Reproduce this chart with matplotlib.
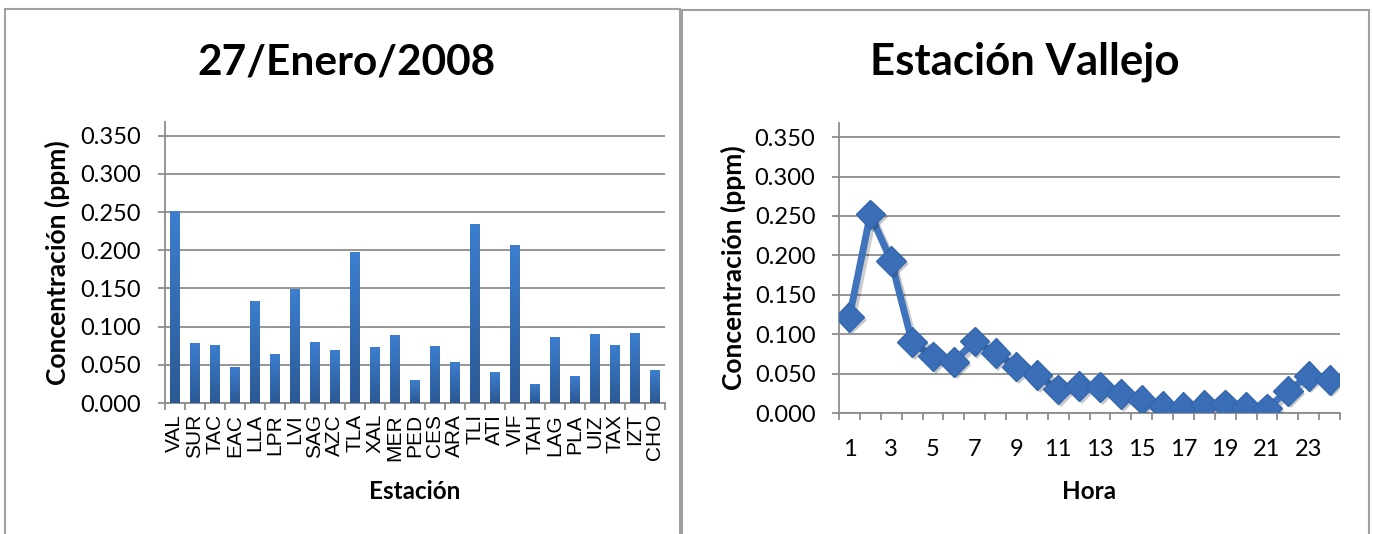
import numpy as np
import matplotlib
matplotlib.use('Agg')
import matplotlib.pyplot as plt
import matplotlib.patheffects as pe
from matplotlib.patches import Rectangle

# ozone concentration per station, 27 Jan 2008
estaciones = ['VAL','SUR','TAC','EAC','LLA','LPR','LVI','SAG','AZC','TLA','XAL','MER','PED',
              'CES','ARA','TLI','ATI','VIF','TAH','LAG','PLA','UIZ','TAX','IZT','CHO']
conc_est = [0.251, 0.079, 0.076, 0.047, 0.134, 0.064, 0.149, 0.080, 0.069, 0.198, 0.073, 0.089, 0.030,
            0.075, 0.054, 0.235, 0.040, 0.207, 0.025, 0.086, 0.036, 0.090, 0.076, 0.092, 0.043]

# hourly values at Vallejo station
horas = list(range(1, 25))
conc_val = [0.122, 0.252, 0.193, 0.090, 0.072, 0.065, 0.091, 0.076, 0.059, 0.048, 0.030, 0.034,
            0.033, 0.024, 0.017, 0.009, 0.008, 0.010, 0.011, 0.008, 0.006, 0.028, 0.047, 0.042]

yticks = [0.0, 0.05, 0.1, 0.15, 0.2, 0.25, 0.3, 0.35]

W, H = 1373, 534
fig = plt.figure(figsize=(W/100, H/100), dpi=100)

gris = '#8c8c8c'
font = 'Lato'

# panel frames
fig.patches.append(Rectangle((5/W, -0.05), 675/W, 1.05 - 9/H, transform=fig.transFigure,
                             fill=False, edgecolor='#a0a0a0', linewidth=1.5))
fig.patches.append(Rectangle((682/W, -0.05), 687/W, 1.05 - 10/H, transform=fig.transFigure,
                             fill=False, edgecolor='#a0a0a0', linewidth=1.5))


def estilo(ax):
    for s in ['top', 'right']:
        ax.spines[s].set_visible(False)
    for s in ['left', 'bottom']:
        ax.spines[s].set_color(gris)
        ax.spines[s].set_linewidth(1.3)
    ax.set_yticks(yticks)
    ax.set_yticklabels(['%.3f' % v for v in yticks], fontfamily=font, fontsize=17)
    ax.tick_params(axis='y', direction='out', length=5, width=1.3, color=gris, pad=12)
    ax.grid(axis='y', color=gris, linewidth=1.3)
    ax.set_axisbelow(True)
    ax.set_ylim(0, 0.368)
    ax.set_ylabel('Concentración (ppm)', fontfamily=font, fontweight='bold', fontsize=19)


# left: bars by station
ax1 = fig.add_axes([164.7/W, 1 - 403/H, 500.3/W, 281/H])
x = np.arange(len(estaciones))
barras = ax1.bar(x, conc_est, width=0.45, color='#3469b0', zorder=3)
grad = np.linspace(1, 0, 100).reshape(-1, 1)
cmap = matplotlib.colors.LinearSegmentedColormap.from_list('b', ['#2b5994', '#3d7ecf'])
for b in barras:
    im = ax1.imshow(grad, cmap=cmap, aspect='auto', zorder=4,
                    extent=[b.get_x(), b.get_x() + b.get_width(), 0, b.get_height()])
    im.set_clip_path(b)
ax1.set_xlim(-0.5, len(estaciones) - 0.5)
estilo(ax1)
ax1.set_ylim(0, 0.368)
ax1.set_xticks(x)
ax1.set_xticklabels(estaciones, rotation=90, fontfamily='Liberation Sans', fontsize=15)
ax1.set_xticks(np.arange(-0.5, len(estaciones)), minor=True)
ax1.tick_params(axis='x', which='major', length=0, pad=8)
ax1.tick_params(axis='x', which='minor', direction='out', length=5, width=1.3, color=gris)
ax1.set_xlabel('Estación', fontfamily=font, fontweight='bold', fontsize=17.5)
ax1.xaxis.set_label_coords(0.5, -0.274)
ax1.yaxis.set_label_coords(-0.189, 0.5)

# right: hourly line, markers drawn on top with their own shadow
ax2 = fig.add_axes([839/W, 1 - 413/H, 501/W, 290/H])
ax2.plot(horas, conc_val, color='#3f74bd', linewidth=5, zorder=3,
         path_effects=[pe.SimpleLineShadow(offset=(2, -2), alpha=0.2), pe.Normal()])
ax2.plot(horas, conc_val, linestyle='none', marker='D', markersize=15,
         markerfacecolor='#3a6fb8', markeredgecolor='#3466ad', markeredgewidth=1, zorder=4,
         path_effects=[pe.SimplePatchShadow(offset=(2, -2), alpha=0.25), pe.Normal()])
ax2.set_xlim(0.5, 24.5)
estilo(ax2)
ax2.set_xticks(horas[::2])
ax2.set_xticklabels([str(h) for h in horas[::2]], fontfamily=font, fontsize=17)
ax2.set_xticks(np.arange(0.5, 25), minor=True)
ax2.tick_params(axis='x', which='major', length=0, pad=19)
ax2.tick_params(axis='x', which='minor', direction='out', length=5, width=1.3, color=gris)
ax2.set_xlabel('Hora', fontfamily=font, fontweight='bold', fontsize=17.5)
ax2.xaxis.set_label_coords(0.5, -0.231)
ax2.yaxis.set_label_coords(-0.186, 0.5)

fig.text(346.5/W, 1 - 62/H, '27/Enero/2008', ha='center', va='center',
         fontfamily=font, fontweight='bold', fontsize=30.5)
fig.text(1025/W, 1 - 62/H, 'Estación Vallejo', ha='center', va='center',
         fontfamily=font, fontweight='bold', fontsize=31.5)

fig.savefig('out.png', dpi=100)
